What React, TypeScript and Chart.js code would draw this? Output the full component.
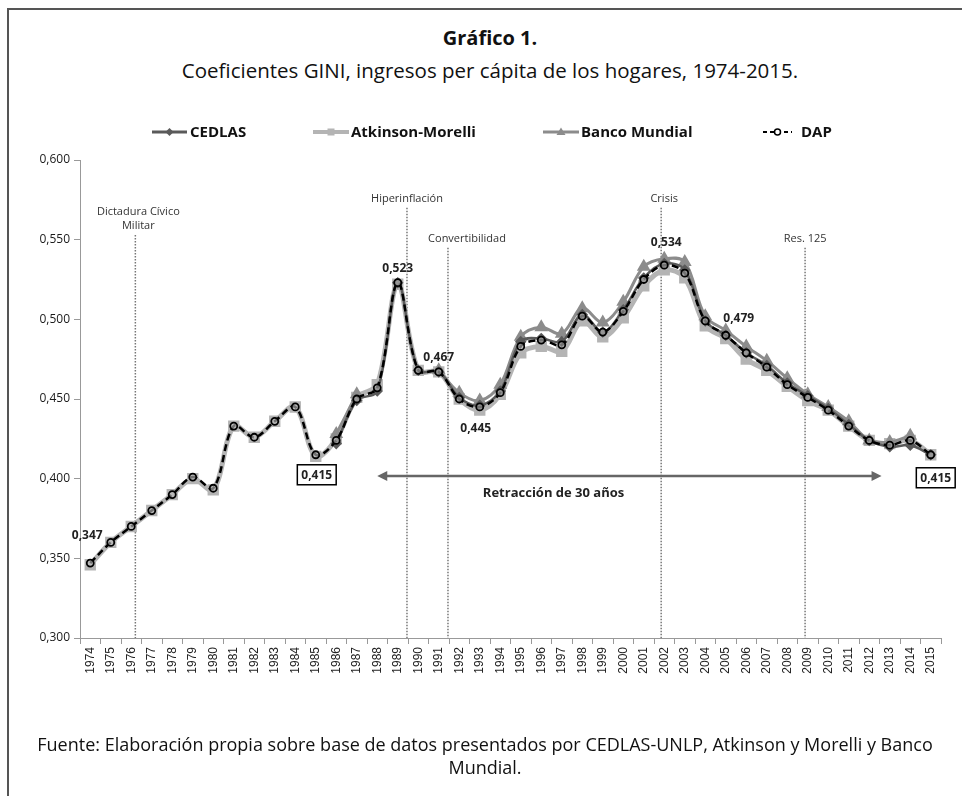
import React, { useEffect, useRef } from "react";
import { Chart, registerables } from "chart.js";
Chart.register(...registerables);

const years = [
  "1974","1975","1976","1977","1978","1979","1980","1981","1982","1983","1984","1985","1986","1987",
  "1988","1989","1990","1991","1992","1993","1994","1995","1996","1997","1998","1999","2000","2001",
  "2002","2003","2004","2005","2006","2007","2008","2009","2010","2011","2012","2013","2014","2015",
];

const dap = [
  0.347, 0.360, 0.370, 0.380, 0.390, 0.401, 0.394, 0.433, 0.426, 0.436, 0.445, 0.415, 0.424, 0.450,
  0.457, 0.523, 0.468, 0.467, 0.450, 0.445, 0.454, 0.483, 0.487, 0.484, 0.502, 0.492, 0.505, 0.525,
  0.534, 0.529, 0.499, 0.490, 0.479, 0.470, 0.459, 0.451, 0.443, 0.433, 0.424, 0.421, 0.424, 0.415,
];

const atkinsonMorelli = [
  0.346, 0.360, 0.370, 0.380, 0.390, 0.400, 0.393, 0.433, 0.426, 0.436, 0.445, 0.414, 0.425, 0.451,
  0.459, 0.522, 0.468, 0.467, 0.450, 0.443, 0.453, 0.479, 0.483, 0.480, 0.499, 0.489, 0.501, 0.521,
  0.531, 0.526, 0.496, 0.488, 0.475, 0.468, 0.458, 0.449, 0.443, 0.433, 0.424, 0.422, 0.424, 0.415,
];

const bancoMundial = [
  null, null, null, null, null, null, null, null, null, null, null, null, 0.428, 0.453,
  null, null, null, 0.468, 0.454, 0.449, 0.459, 0.489, 0.495, 0.491, 0.507, 0.498, 0.511, 0.533,
  0.538, 0.536, 0.502, 0.493, 0.483, 0.474, 0.463, 0.453, 0.445, 0.436, 0.424, 0.423, 0.427, null,
];

const cedlas = [
  null, null, null, null, null, null, null, null, null, null, null, null, 0.422, 0.449,
  0.455, 0.523, 0.468, 0.467, 0.451, 0.446, 0.455, 0.486, 0.488, 0.486, 0.503, 0.492, 0.506, 0.526,
  0.535, 0.531, 0.499, 0.490, 0.479, 0.471, 0.460, 0.452, 0.444, 0.434, 0.424, 0.420, 0.421, 0.415,
];

const yMin = 0.3;
const yMax = 0.6;
const yStep = 0.05;

const events = [
  { lines: ["Dictadura Cívico", "Militar"], at: 2.2, top: 0.553, dx: 3 },
  { lines: ["Hiperinflación"], at: 15.45, top: 0.570, dx: 0 },
  { lines: ["Convertibilidad"], at: 17.45, top: 0.545, dx: 19 },
  { lines: ["Crisis"], at: 27.85, top: 0.570, dx: 3 },
  { lines: ["Res. 125"], at: 34.87, top: 0.545, dx: 0 },
];

const valueLabels = [
  { i: 0, text: "0,347", dx: -3, dy: -28, boxed: false },
  { i: 11, text: "0,415", dx: 1, dy: 20, boxed: true },
  { i: 15, text: "0,523", dx: 0, dy: -15, boxed: false },
  { i: 17, text: "0,467", dx: 0, dy: -15, boxed: false },
  { i: 19, text: "0,445", dx: -4, dy: 21, boxed: false },
  { i: 28, text: "0,534", dx: 2, dy: -23, boxed: false },
  { i: 31, text: "0,479", dx: 13, dy: -17, boxed: false },
  { i: 41, text: "0,415", dx: 5, dy: 23, boxed: true },
];

const retraccion = { from: 14.0, to: 38.6, value: 0.4017, textAt: 22.6, text: "Retracción de 30 años" };

const FONT = "'Open Sans', 'Noto Sans', sans-serif";

function drawMarker(ctx: CanvasRenderingContext2D, kind: string, x: number, y: number) {
  ctx.save();
  ctx.setLineDash([]);
  if (kind === "diamond") {
    ctx.fillStyle = "#5a5a5a";
    ctx.beginPath();
    ctx.moveTo(x, y - 4); ctx.lineTo(x + 4, y); ctx.lineTo(x, y + 4); ctx.lineTo(x - 4, y);
    ctx.closePath(); ctx.fill();
  } else if (kind === "square") {
    ctx.fillStyle = "#b4b4b4";
    ctx.fillRect(x - 3.5, y - 3.5, 7, 7);
  } else if (kind === "triangle") {
    ctx.fillStyle = "#8c8c8c";
    ctx.beginPath();
    ctx.moveTo(x, y - 4.5); ctx.lineTo(x + 4.5, y + 3); ctx.lineTo(x - 4.5, y + 3);
    ctx.closePath(); ctx.fill();
  } else {
    ctx.fillStyle = "#fff";
    ctx.strokeStyle = "#000";
    ctx.lineWidth = 1.5;
    ctx.beginPath(); ctx.arc(x, y, 3, 0, Math.PI * 2); ctx.fill(); ctx.stroke();
  }
  ctx.restore();
}

const legendItems = [
  { text: "CEDLAS", kind: "diamond", color: "#5a5a5a", width: 3, dash: [] as number[], x1: 152, x2: 187, tx: 190 },
  { text: "Atkinson-Morelli", kind: "square", color: "#b4b4b4", width: 4, dash: [] as number[], x1: 313, x2: 349, tx: 351 },
  { text: "Banco Mundial", kind: "triangle", color: "#8c8c8c", width: 3, dash: [] as number[], x1: 543, x2: 579, tx: 581 },
  { text: "DAP", kind: "circle", color: "#000", width: 2, dash: [4, 3], x1: 763, x2: 792, tx: 801 },
];

const overlayPlugin = {
  id: "overlay",
  beforeDatasetsDraw(chart: any) {
    const { ctx, scales } = chart;
    const xs = scales.x, ys = scales.y;
    const bottom = ys.getPixelForValue(yMin);
    ctx.save();
    events.forEach((ev) => {
      const x = xs.getPixelForValue(ev.at);
      const top = ys.getPixelForValue(ev.top);
      ctx.strokeStyle = "#777";
      ctx.lineWidth = 1.5;
      ctx.setLineDash([1.5, 1.5]);
      ctx.beginPath();
      ctx.moveTo(x, top);
      ctx.lineTo(x, bottom);
      ctx.stroke();
      ctx.setLineDash([]);
      ctx.fillStyle = "#333";
      ctx.font = `11px ${FONT}`;
      ctx.textAlign = "center";
      ctx.textBaseline = "middle";
      const n = ev.lines.length;
      ev.lines.forEach((ln, k) => {
        ctx.fillText(ln, x + ev.dx, top - 9 - (n - 1 - k) * 14);
      });
    });
    // arrow
    const ay = ys.getPixelForValue(retraccion.value);
    const ax1 = xs.getPixelForValue(retraccion.from);
    const ax2 = xs.getPixelForValue(retraccion.to);
    ctx.strokeStyle = "#666";
    ctx.fillStyle = "#666";
    ctx.lineWidth = 2.5;
    ctx.beginPath();
    ctx.moveTo(ax1 + 8, ay);
    ctx.lineTo(ax2 - 8, ay);
    ctx.stroke();
    ctx.beginPath();
    ctx.moveTo(ax1, ay); ctx.lineTo(ax1 + 10, ay - 5); ctx.lineTo(ax1 + 10, ay + 5); ctx.closePath(); ctx.fill();
    ctx.beginPath();
    ctx.moveTo(ax2, ay); ctx.lineTo(ax2 - 10, ay - 5); ctx.lineTo(ax2 - 10, ay + 5); ctx.closePath(); ctx.fill();
    ctx.fillStyle = "#222";
    ctx.font = `bold 13px ${FONT}`;
    ctx.textAlign = "center";
    ctx.textBaseline = "middle";
    ctx.fillText(retraccion.text, xs.getPixelForValue(retraccion.textAt), ay + 17);
    ctx.restore();
  },
  afterDatasetsDraw(chart: any) {
    const { ctx, scales } = chart;
    const xs = scales.x, ys = scales.y;
    ctx.save();
    valueLabels.forEach((vl) => {
      const x = xs.getPixelForValue(vl.i) + vl.dx;
      const y = ys.getPixelForValue(dap[vl.i]) + vl.dy;
      ctx.font = `bold 12px ${FONT}`;
      ctx.textAlign = "center";
      ctx.textBaseline = "middle";
      if (vl.boxed) {
        const w = ctx.measureText(vl.text).width + 8;
        ctx.fillStyle = "#fff";
        ctx.fillRect(x - w / 2, y - 10, w, 20);
        ctx.strokeStyle = "#000";
        ctx.lineWidth = 1.5;
        ctx.strokeRect(x - w / 2, y - 10, w, 20);
      }
      ctx.fillStyle = "#222";
      ctx.fillText(vl.text, x, y + 0.5);
    });
    // legend
    const ly = 132;
    legendItems.forEach((it) => {
      ctx.strokeStyle = it.color;
      ctx.lineWidth = it.width;
      ctx.setLineDash(it.dash);
      ctx.beginPath();
      ctx.moveTo(it.x1, ly);
      ctx.lineTo(it.x2, ly);
      ctx.stroke();
      ctx.setLineDash([]);
      drawMarker(ctx, it.kind, (it.x1 + it.x2) / 2, ly);
      ctx.fillStyle = "#111";
      ctx.font = `bold 15px ${FONT}`;
      ctx.textAlign = "left";
      ctx.textBaseline = "middle";
      ctx.fillText(it.text, it.tx, ly + 0.5);
    });
    ctx.restore();
  },
};

export default function App() {
  const ref = useRef<HTMLCanvasElement | null>(null);
  useEffect(() => {
    if (!ref.current) return;
    const chart = new Chart(ref.current, {
      type: "line",
      data: {
        labels: years,
        datasets: [
          {
            label: "DAP",
            data: dap,
            borderColor: "#000",
            borderWidth: 2.5,
            borderDash: [7, 4],
            pointStyle: "circle",
            pointRadius: 3.5,
            pointBorderWidth: 1.8,
            pointBorderColor: "#000",
            pointBackgroundColor: "rgba(190,190,190,0.6)",
            tension: 0.35,
            order: 0,
          },
          {
            label: "CEDLAS",
            data: cedlas,
            borderColor: "#5a5a5a",
            borderWidth: 2.5,
            pointStyle: "rectRot",
            pointRadius: 4,
            pointBackgroundColor: "#5a5a5a",
            pointBorderColor: "#5a5a5a",
            tension: 0.35,
            spanGaps: false,
            order: 1,
          },
          {
            label: "Banco Mundial",
            data: bancoMundial,
            borderColor: "#8c8c8c",
            borderWidth: 3,
            pointStyle: "triangle",
            pointRadius: 5,
            pointBackgroundColor: "#8c8c8c",
            pointBorderColor: "#8c8c8c",
            tension: 0.35,
            spanGaps: false,
            order: 2,
          },
          {
            label: "Atkinson-Morelli",
            data: atkinsonMorelli,
            borderColor: "#b4b4b4",
            borderWidth: 5,
            pointStyle: "rect",
            pointRadius: 4.5,
            pointBackgroundColor: "#b4b4b4",
            pointBorderColor: "#b4b4b4",
            tension: 0.35,
            order: 3,
          },
        ],
      },
      options: {
        animation: false,
        responsive: false,
        devicePixelRatio: 1,
        layout: { padding: { left: 30, right: 21, top: 160, bottom: 108 } },
        plugins: { legend: { display: false }, tooltip: { enabled: false }, title: { display: false } },
        scales: {
          x: {
            type: "category",
            offset: true,
            grid: { display: true, drawOnChartArea: false, drawTicks: true, tickLength: 6, color: "#999", offset: true },
            border: { display: true, color: "#999", width: 1 },
            ticks: {
              autoSkip: false,
              minRotation: 90,
              maxRotation: 90,
              padding: 3,
              color: "#222",
              font: { family: "'Liberation Sans', Arial, sans-serif", size: 12 },
            },
            afterFit: (s: any) => { s.height = 50; },
          },
          y: {
            min: yMin,
            max: yMax,
            grid: { display: true, drawOnChartArea: false, drawTicks: true, tickLength: 6, color: "#999" },
            border: { display: true, color: "#999", width: 1 },
            ticks: {
              stepSize: yStep,
              padding: 4,
              color: "#1a1a1a",
              font: { family: FONT, size: 12 },
              callback: (v: any) => Number(v).toFixed(3).replace(".", ","),
            },
            afterFit: (s: any) => { s.width = 50; },
          },
        },
      },
      plugins: [overlayPlugin],
    });
    return () => chart.destroy();
  }, []);

  return (
    <div style={{ position: "absolute", left: 0, top: 0, width: 962, height: 796, overflow: "hidden", background: "#fff", fontFamily: FONT }}>
      <div style={{ position: "absolute", left: 7, top: 8, width: 980, height: 820, borderLeft: "2px solid #555", borderTop: "2px solid #555" }} />
      <div style={{ position: "absolute", left: 0, top: 24, width: 980, textAlign: "center", fontWeight: "bold", fontSize: 20, lineHeight: "28px", color: "#111" }}>
        Gráfico 1.
      </div>
      <div style={{ position: "absolute", left: 0, top: 56, width: 980, textAlign: "center", fontSize: 20.5, lineHeight: "28px", color: "#111" }}>
        Coeficientes GINI, ingresos per cápita de los hogares, 1974-2015.
      </div>
      <canvas ref={ref} width={962} height={796} style={{ position: "absolute", left: 0, top: 0, width: 962, height: 796 }} />
      <div style={{ position: "absolute", left: -20, top: 733, width: 1010, textAlign: "center", fontSize: 18, lineHeight: "23px", color: "#111", whiteSpace: "nowrap" }}>
        Fuente: Elaboración propia sobre base de datos presentados por CEDLAS-UNLP, Atkinson y Morelli y Banco
        <br />
        Mundial.
      </div>
    </div>
  );
}
